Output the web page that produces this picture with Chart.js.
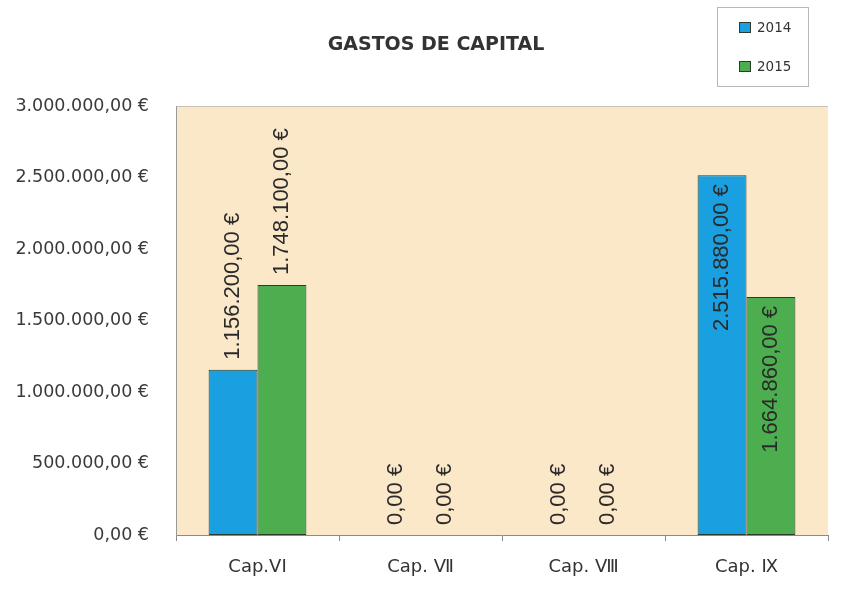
<!DOCTYPE html>
<html>
<head>
<meta charset="utf-8">
<script src="https://cdn.jsdelivr.net/npm/chart.js@4/dist/chart.umd.min.js"></script>
<style>
  html, body { margin: 0; padding: 0; background: #ffffff; }
  #wrap { width: 852px; height: 601px; position: relative; }
</style>
</head>
<body>
<div id="wrap"><canvas id="capChart"></canvas></div>
<script>
// Chart data
const categories = ['Cap.VI', 'Cap. Ⅶ', 'Cap. Ⅷ', 'Cap. Ⅸ'];
const years = ['2014', '2015'];
const values2014 = [1156200, 0, 0, 2515880];
const values2015 = [1748100, 0, 0, 1664860];
const yTicks = [0, 500000, 1000000, 1500000, 2000000, 2500000, 3000000];

// Where the value labels sit for each category (inside the bar top or above it)
const labelInside = [false, false, false, true];

const chartTitle = 'GASTOS DE CAPITAL';

// 1234567.5 -> "1.234.567,50 €"
function euro(v) {
  const parts = Number(v).toFixed(2).split('.');
  const intPart = parts[0].replace(/\B(?=(\d{3})+(?!\d))/g, '.');
  return intPart + ',' + parts[1] + ' €';
}

// Peach background behind the bars
const plotBackground = {
  id: 'plotBackground',
  beforeDraw(chart) {
    const { ctx, chartArea: a } = chart;
    ctx.save();
    ctx.fillStyle = '#fae8c9';
    ctx.fillRect(a.left, a.top, a.right - a.left, a.bottom - a.top);
    ctx.strokeStyle = '#c8c2b8';
    ctx.lineWidth = 1;
    ctx.beginPath();
    ctx.moveTo(a.left, a.top + 0.5);
    ctx.lineTo(a.right, a.top + 0.5);
    ctx.stroke();
    ctx.restore();
  }
};

// Vertical value labels on each bar
const barLabels = {
  id: 'barLabels',
  afterDatasetsDraw(chart) {
    const ctx = chart.ctx;
    ctx.save();
    ctx.font = '22px "Liberation Sans", Arial, sans-serif';
    ctx.fillStyle = '#2a2a2a';
    ctx.textBaseline = 'middle';
    chart.data.datasets.forEach((ds, i) => {
      const meta = chart.getDatasetMeta(i);
      meta.data.forEach((bar, j) => {
        const text = euro(ds.data[j]);
        ctx.save();
        if (labelInside[j]) {
          ctx.translate(bar.x, bar.y + 9);
          ctx.rotate(-Math.PI / 2);
          ctx.textAlign = 'right';
        } else {
          ctx.translate(bar.x, bar.y - 10);
          ctx.rotate(-Math.PI / 2);
          ctx.textAlign = 'left';
        }
        ctx.fillText(text, 0, 0);
        ctx.restore();
      });
    });
    ctx.restore();
  }
};

// Title and boxed legend at the top right
const titleAndLegend = {
  id: 'titleAndLegend',
  afterDraw(chart) {
    const ctx = chart.ctx;
    ctx.save();
    ctx.fillStyle = '#333333';
    ctx.font = 'bold 19px "DejaVu Sans", sans-serif';
    ctx.textAlign = 'center';
    ctx.textBaseline = 'middle';
    ctx.fillText(chartTitle, 436, 45);

    // legend box
    ctx.strokeStyle = '#b8b8b8';
    ctx.lineWidth = 1;
    ctx.strokeRect(717.5, 7.5, 91, 79);

    ctx.font = '13.5px "DejaVu Sans", sans-serif';
    ctx.textAlign = 'left';
    chart.data.datasets.forEach((ds, i) => {
      const y = 27 + i * 39;
      ctx.fillStyle = ds.backgroundColor;
      ctx.fillRect(739, y - 5, 12, 11);
      ctx.strokeStyle = '#2d3b2d';
      ctx.strokeRect(739.5, y - 4.5, 11, 10);
      ctx.fillStyle = '#333333';
      ctx.fillText(ds.label, 757, y + 1);
    });
    ctx.restore();
  }
};

const ctx = document.getElementById('capChart').getContext('2d');

new Chart(ctx, {
  type: 'bar',
  data: {
    labels: categories,
    datasets: [
      {
        label: years[0],
        data: values2014,
        backgroundColor: '#1a9fe0',
        borderColor: '#2d3b2d',
        borderWidth: 1,
        borderSkipped: false
      },
      {
        label: years[1],
        data: values2015,
        backgroundColor: '#4dae50',
        borderColor: '#2d3b2d',
        borderWidth: 1,
        borderSkipped: false
      }
    ]
  },
  options: {
    responsive: true,
    maintainAspectRatio: false,
    animation: false,
    layout: {
      padding: { top: 106, right: 24, bottom: 0, left: 0 }
    },
    datasets: {
      bar: {
        barPercentage: 1,
        categoryPercentage: 0.6
      }
    },
    plugins: {
      legend: { display: false },
      title: { display: false },
      tooltip: { enabled: false }
    },
    scales: {
      x: {
        grid: {
          display: true,
          drawOnChartArea: false,
          offset: true,
          tickLength: 6,
          color: '#8a8a8a'
        },
        border: { color: '#8a8a8a' },
        ticks: {
          color: '#333333',
          padding: 16,
          font: { family: 'DejaVu Sans', size: 18 }
        },
        afterFit(scale) {
          scale.height = 66;
        }
      },
      y: {
        min: 0,
        max: 3000000,
        afterBuildTicks(scale) {
          scale.ticks = yTicks.map(v => ({ value: v }));
        },
        grid: { display: false },
        border: { display: true, color: '#9a9a9a' },
        ticks: {
          color: '#3a3a3a',
          padding: 19,
          font: { family: 'DejaVu Sans', size: 17.5 },
          callback: value => euro(value)
        },
        afterFit(scale) {
          scale.width = 176;
        }
      }
    }
  },
  plugins: [plotBackground, barLabels, titleAndLegend]
});
</script>
</body>
</html>
